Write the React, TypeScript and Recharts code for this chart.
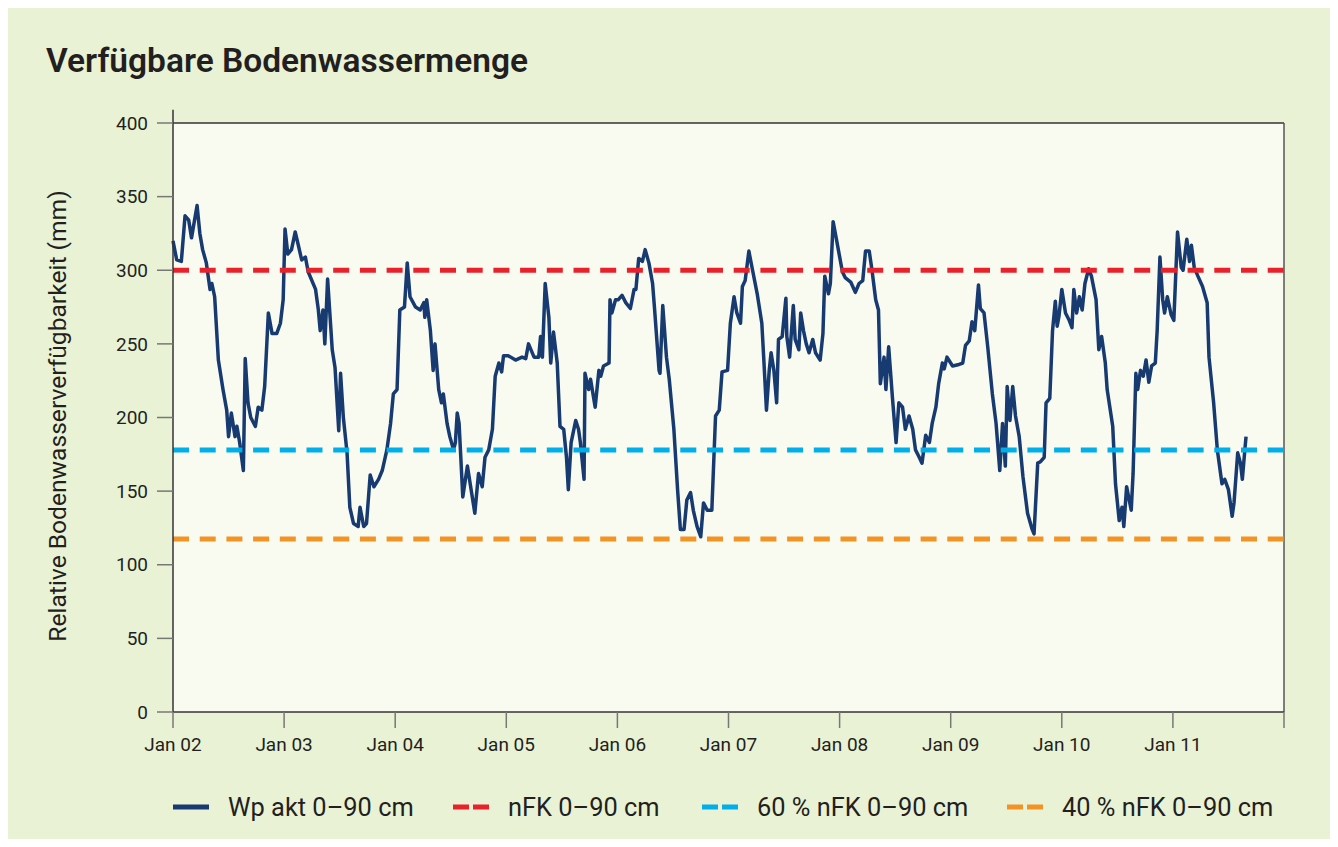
import React from 'react';
import { LineChart, Line, XAxis, YAxis, ReferenceLine, ReferenceArea } from 'recharts';

// Wp akt 0–90 cm: [months since Jan 2002, mm]
const wpAkt: [number, number][] = [
  [0,320],[0.4,307],[0.9,306],[1.3,337],[1.7,334],[2.0,322],[2.6,344],[2.9,325],[3.2,314],[3.6,305],[4.0,287],[4.2,291],[4.5,282],[4.9,239],[5.4,219],[5.8,205],[6.0,187],[6.3,203],[6.7,187],[6.9,194],[7.2,183],[7.6,164],[7.8,240],[8.1,210],[8.4,200],[8.9,194],[9.2,207],[9.6,205],[9.9,221],[10.3,271],[10.7,257],[11.2,257],[11.6,264],[11.9,280],
  [12.1,328],[12.4,311],[12.8,314],[13.2,326],[13.5,318],[13.9,307],[14.3,309],[14.6,299],[15.4,287],[15.7,273],[15.9,259],[16.2,273],[16.4,250],[16.7,294],[17.2,246],[17.5,234],[17.9,191],[18.1,230],[18.4,200],[18.8,176],[19.1,139],[19.5,128],[20.0,126],[20.2,139],[20.6,126],[20.9,128],[21.3,161],[21.7,153],[22.2,158],[22.6,164],[23.1,178],[23.5,196],[23.8,216],
  [24.2,219],[24.5,273],[25.0,275],[25.3,305],[25.6,282],[26.2,275],[26.7,273],[27.1,278],[27.2,268],[27.4,280],[27.8,259],[28.1,232],[28.3,250],[28.7,219],[29.0,210],[29.2,216],[29.6,196],[29.9,187],[30.3,178],[30.5,183],[30.7,203],[30.9,196],[31.3,146],[31.8,167],[32.1,155],[32.6,135],[33.0,162],[33.4,153],[33.7,173],[34.1,178],[34.5,192],[34.8,228],[35.2,237],[35.5,231],[35.7,242],
  [36.2,242],[37.0,239],[37.7,241],[38.1,240],[38.4,250],[39.0,241],[39.5,241],[39.7,255],[39.9,241],[40.2,291],[40.6,268],[40.8,237],[41.1,258],[41.5,237],[41.8,194],[42.2,192],[42.5,173],[42.7,151],[43.0,183],[43.5,198],[43.8,192],[44.0,183],[44.4,158],[44.5,230],[44.9,219],[45.1,226],[45.6,207],[46.0,232],[46.2,228],[46.5,235],[47.1,237],[47.2,280],[47.4,271],[47.8,280],
  [48.1,280],[48.5,283],[48.9,278],[49.4,274],[49.8,287],[50.0,287],[50.3,308],[50.7,306],[51.0,314],[51.4,305],[51.8,291],[52.0,275],[52.5,232],[52.6,230],[52.9,276],[53.3,241],[53.6,226],[54.1,192],[54.5,151],[54.8,124],[55.2,124],[55.5,144],[55.9,149],[56.2,137],[56.6,126],[57.0,119],[57.3,142],[57.7,137],[58.2,137],[58.6,201],[59.0,205],[59.3,231],[59.9,232],
  [60.2,264],[60.6,282],[60.9,271],[61.3,264],[61.5,289],[61.8,293],[62.2,313],[62.6,300],[63.1,284],[63.6,264],[63.8,241],[64.1,205],[64.4,232],[64.6,244],[64.9,232],[65.2,210],[65.4,253],[65.8,255],[66.2,281],[66.3,255],[66.6,241],[67.0,276],[67.2,253],[67.6,246],[67.8,271],[68.1,259],[68.4,250],[68.7,244],[69.1,253],[69.4,244],[69.9,239],[70.2,257],[70.4,296],[70.8,284],[71.0,291],[71.3,333],[71.6,323],
  [72.3,299],[72.6,295],[73.2,292],[73.7,285],[74.1,291],[74.5,293],[74.8,313],[75.2,313],[75.5,300],[75.9,280],[76.2,273],[76.4,223],[76.8,241],[77.0,219],[77.3,248],[77.7,214],[78.1,183],[78.4,210],[78.8,207],[79.1,192],[79.5,201],[79.9,192],[80.2,178],[80.6,173],[80.9,169],[81.3,188],[81.7,183],[82.0,196],[82.4,207],[82.7,223],[83.1,237],[83.3,233],[83.6,241],
  [84.2,235],[84.9,236],[85.3,237],[85.6,249],[86.0,252],[86.3,265],[86.6,259],[87.0,290],[87.2,274],[87.6,271],[88.0,248],[88.5,216],[88.9,196],[89.3,164],[89.6,196],[89.9,167],[90.1,221],[90.4,198],[90.7,221],[91.0,201],[91.4,187],[91.8,160],[92.3,135],[92.8,124],[93.0,121],[93.4,169],[93.7,170],[94.1,173],[94.3,210],[94.7,213],[95.0,259],[95.3,279],[95.5,262],[95.7,269],
  [96.0,287],[96.4,271],[96.8,266],[97.1,261],[97.3,287],[97.6,271],[97.9,282],[98.2,273],[98.5,291],[98.9,301],[99.2,296],[99.7,280],[100.0,246],[100.3,255],[100.7,237],[100.9,219],[101.5,194],[101.8,155],[102.2,130],[102.5,139],[102.7,126],[103.0,153],[103.5,137],[103.7,162],[104.0,230],[104.2,219],[104.5,232],[104.8,228],[105.1,239],[105.4,224],[105.7,235],[106.1,237],[106.3,259],[106.6,309],[106.9,280],[107.1,271],[107.4,282],[107.8,270],
  [108.1,266],[108.5,326],[108.9,302],[109.1,300],[109.5,321],[109.8,306],[110.0,317],[110.3,302],[110.7,296],[111.2,289],[111.7,278],[111.9,241],[112.4,210],[112.8,178],[113.3,155],[113.6,158],[114.0,151],[114.4,133],[114.6,142],[115.0,176],[115.3,169],[115.5,158],[115.8,180],[115.9,187],
];

// Thresholds (mm)
const nFK = 300;
const nFK60 = 178;
const nFK40 = 117.5;

const yearLabels = ['Jan 02', 'Jan 03', 'Jan 04', 'Jan 05', 'Jan 06', 'Jan 07', 'Jan 08', 'Jan 09', 'Jan 10', 'Jan 11', ''];
const xTicks = yearLabels.map((_, i) => i * 12);
const yTicks = [0, 50, 100, 150, 200, 250, 300, 350, 400];

const legendItems = [
  { label: 'Wp akt 0–90 cm', color: '#173a70', dashed: false },
  { label: 'nFK 0–90 cm', color: '#e8212b', dashed: true },
  { label: '60 % nFK 0–90 cm', color: '#00aeea', dashed: true },
  { label: '40 % nFK 0–90 cm', color: '#f39324', dashed: true },
];
const legendLefts = [165, 445, 694, 999];

const data = wpAkt.map(([m, v]) => ({ m, v }));

const FONT = 'Roboto, "Noto Sans", sans-serif';
const TEXT = '#231f20';

export default function App() {
  return (
    <div
      style={{
        position: 'relative',
        width: 1323,
        height: 831,
        background: '#e9f2d5',
        fontFamily: FONT,
        color: TEXT,
      }}
    >
      <div
        style={{
          position: 'absolute',
          left: 38,
          top: 36,
          fontSize: 33.5,
          lineHeight: '34px',
          fontWeight: 600,
          whiteSpace: 'nowrap',
        }}
      >
        Verfügbare Bodenwassermenge
      </div>
      <div
        style={{
          position: 'absolute',
          left: 49,
          top: 408,
          transform: 'translate(-50%, -50%) rotate(-90deg)',
          fontSize: 24.6,
          whiteSpace: 'nowrap',
        }}
      >
        Relative Bodenwasserverfügbarkeit (mm)
      </div>
      <div style={{ position: 'absolute', left: 0, top: 0 }}>
        <LineChart width={1323} height={831} data={data} margin={{ top: 115, right: 47, left: 0, bottom: 0 }}>
          <ReferenceArea x1={0} x2={120} y1={0} y2={400} fill="#f9fbf1" fillOpacity={1} stroke="none" />
          <XAxis
            dataKey="m"
            type="number"
            domain={[0, 120]}
            ticks={xTicks}
            interval={0}
            tickFormatter={(v: number) => yearLabels[Math.round(v / 12)]}
            height={127}
            tickSize={16}
            tickMargin={10}
            axisLine={{ stroke: '#333', strokeWidth: 1.5 }}
            tickLine={{ stroke: '#777', strokeWidth: 1.5 }}
            tick={{ fill: TEXT, fontSize: 19, fontFamily: FONT }}
          />
          <YAxis
            type="number"
            domain={[0, 400]}
            ticks={yTicks}
            interval={0}
            width={165}
            tickSize={16}
            tickMargin={9}
            axisLine={{ stroke: '#333', strokeWidth: 1.5 }}
            tickLine={{ stroke: '#777', strokeWidth: 1.5 }}
            tick={{ fill: TEXT, fontSize: 19, fontFamily: FONT }}
          />
          <ReferenceLine y={400} stroke="#333" strokeWidth={1.5} />
          <ReferenceLine x={120} stroke="#555" strokeWidth={1.5} />
          <ReferenceLine
            segment={[{ x: 0, y: 400 }, { x: 0, y: 409 }]}
            stroke="#333"
            strokeWidth={1.5}
            ifOverflow="visible"
          />
          <Line
            type="linear"
            dataKey="v"
            stroke="#173a70"
            strokeWidth={3.5}
            strokeLinejoin="round"
            dot={false}
            isAnimationActive={false}
          />
          <ReferenceLine y={nFK} stroke="#e8212b" strokeWidth={5} strokeDasharray="16 10.7" />
          <ReferenceLine y={nFK60} stroke="#00aeea" strokeWidth={5} strokeDasharray="16 10.7" />
          <ReferenceLine y={nFK40} stroke="#f39324" strokeWidth={5} strokeDasharray="16 10.7" />
        </LineChart>
      </div>
      {legendItems.map((it, i) => (
        <div
          key={it.label}
          style={{
            position: 'absolute',
            left: legendLefts[i],
            top: 784,
            height: 30,
            display: 'flex',
            alignItems: 'center',
            fontSize: 25.4,
            whiteSpace: 'nowrap',
          }}
        >
          <svg width={36} height={6} style={{ marginRight: 19 }}>
            <line
              x1={0}
              y1={3}
              x2={36}
              y2={3}
              stroke={it.color}
              strokeWidth={5}
              strokeDasharray={it.dashed ? '16 4' : undefined}
            />
          </svg>
          <span>{it.label}</span>
        </div>
      ))}
    </div>
  );
}
